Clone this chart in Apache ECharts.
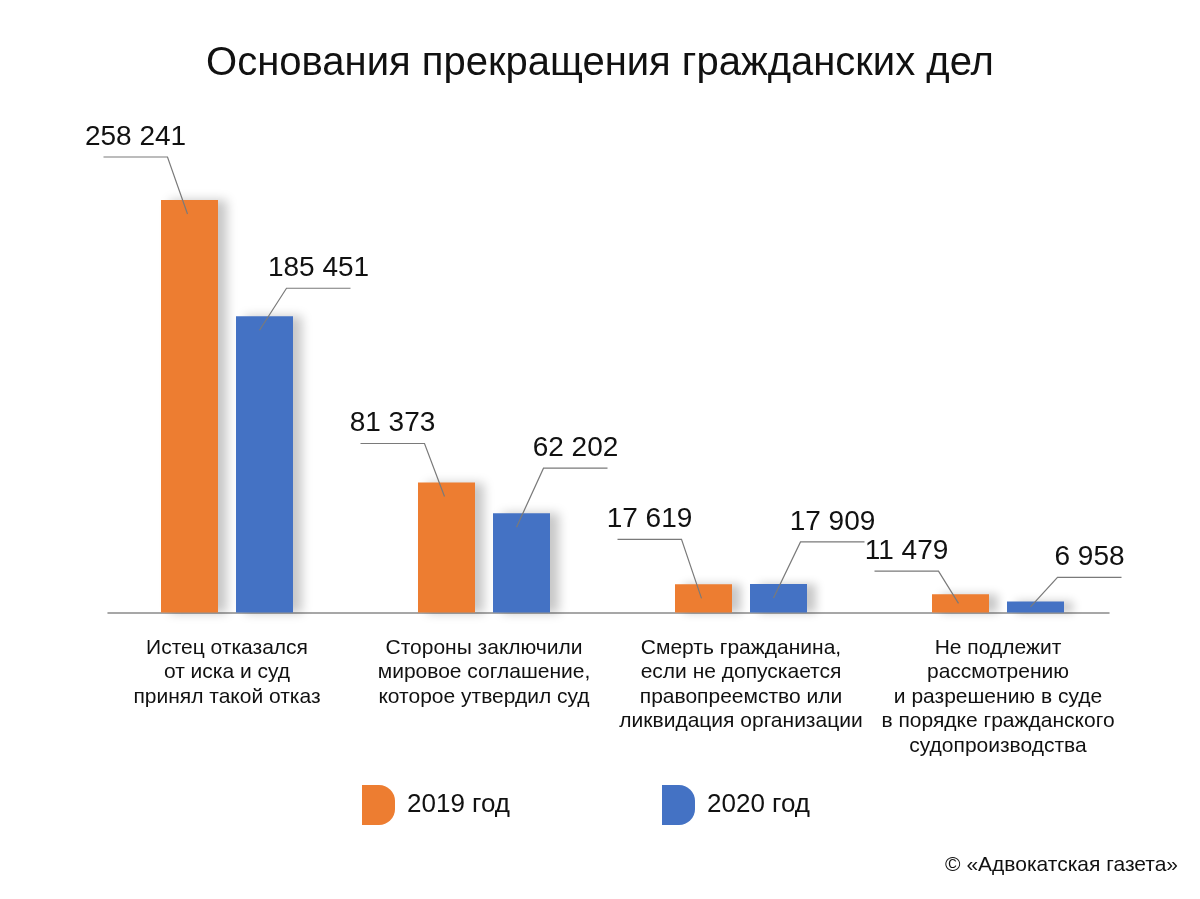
<!DOCTYPE html>
<html>
<head>
<meta charset="utf-8">
<script src="https://cdn.jsdelivr.net/npm/echarts@6/dist/echarts.min.js"></script>
<style>
html,body{margin:0;padding:0;background:#fff;}
#chart{width:1200px;height:899px;}
</style>
</head>
<body>
<div id="chart"></div>
<script>
const titleText = 'Основания прекращения гражданских дел';
const categories = [
  'Истец отказался\nот иска и суд\nпринял такой отказ',
  'Стороны заключили\nмировое соглашение,\nкоторое утвердил суд',
  'Смерть гражданина,\nесли не допускается\nправопреемство или\nликвидация организации',
  'Не подлежит\nрассмотрению\nи разрешению в суде\nв порядке гражданского\nсудопроизводства'
];
const seriesNames = ['2019 год', '2020 год'];
const values2019 = [258241, 81373, 17619, 11479];
const values2020 = [185451, 62202, 17909, 6958];
const copyrightText = '© «Адвокатская газета»';

// layout / style (not data)
const FONT = '"Liberation Sans", Arial, Helvetica, sans-serif';
const TEXT_COLOR = '#111111';
const COLORS = ['#ED7D31', '#4472C4'];
const BAR_W = 57, BAR_GAP = 18;
// how far each value label's leader elbow rises above its bar (px)
const LABEL_RISE = [[43, 39, 45, 23], [28, 45, 42, 24]];

function fmt(v) { return String(v).replace(/\B(?=(\d{3})+(?!\d))/g, ' '); }

const labelData = [];
values2019.forEach((v, i) => labelData.push([i, v, 0]));
values2020.forEach((v, i) => labelData.push([i, v, 1]));

const iconPath = 'path://M0,0 L17,0 A16,16 0 0 1 33,16 L33,24 A16,16 0 0 1 17,40 L0,40 Z';

const chart = echarts.init(document.getElementById('chart'));
chart.setOption({
  backgroundColor: '#ffffff',
  animation: false,
  title: {
    text: titleText, left: 'center', top: 44, padding: 0,
    textStyle: { fontFamily: FONT, fontSize: 40, fontWeight: 'normal', color: TEXT_COLOR }
  },
  legend: [
    {
      data: [seriesNames[0]], left: 362, top: 785, padding: 0, itemWidth: 33, itemHeight: 40,
      icon: iconPath, itemStyle: { borderWidth: 0 },
      textStyle: { fontFamily: FONT, fontSize: 26, color: TEXT_COLOR, padding: [0, 0, 0, 7] }
    },
    {
      data: [seriesNames[1]], left: 662, top: 785, padding: 0, itemWidth: 33, itemHeight: 40,
      icon: iconPath, itemStyle: { borderWidth: 0 },
      textStyle: { fontFamily: FONT, fontSize: 26, color: TEXT_COLOR, padding: [0, 0, 0, 7] }
    }
  ],
  graphic: [{
    type: 'text', right: 22, top: 855,
    style: { text: copyrightText, fontFamily: FONT, fontSize: 21, fill: TEXT_COLOR }
  }],
  grid: [
    { left: 98.5, width: 1028, top: 133.3, bottom: 286.5 },
    { left: 108, width: 1001, top: 133.3, bottom: 286.5 }
  ],
  xAxis: [
    {
      type: 'category', data: categories, gridIndex: 0,
      axisLine: { show: false }, axisTick: { show: false },
      axisLabel: { fontFamily: FONT, fontSize: 21, lineHeight: 24.5, color: TEXT_COLOR, margin: 23, interval: 0 }
    },
    {
      type: 'value', gridIndex: 1, min: 0, max: 1,
      axisLine: { show: true, lineStyle: { color: '#8a8a8a', width: 1.5 } },
      axisTick: { show: false }, axisLabel: { show: false }, splitLine: { show: false }
    }
  ],
  yAxis: [
    { type: 'value', gridIndex: 0, min: 0, max: 300000, show: false },
    { type: 'value', gridIndex: 1, min: 0, max: 1, show: false }
  ],
  series: [
    {
      name: seriesNames[0], type: 'bar', data: values2019, barWidth: BAR_W, barGap: (BAR_GAP / BAR_W * 100) + '%',
      itemStyle: { color: COLORS[0], shadowColor: 'rgba(0,0,0,0.22)', shadowBlur: 10, shadowOffsetX: 9 },
      z: 2
    },
    {
      name: seriesNames[1], type: 'bar', data: values2020, barWidth: BAR_W,
      itemStyle: { color: COLORS[1], shadowColor: 'rgba(0,0,0,0.22)', shadowBlur: 10, shadowOffsetX: 9 },
      z: 2
    },
    {
      type: 'custom', data: labelData, z: 5, silent: true,
      renderItem: function (params, api) {
        const cat = api.value(0), v = api.value(1), s = api.value(2);
        const c = api.coord([cat, v]);
        const z0 = api.coord([cat, 0]);
        const half = (BAR_W + BAR_GAP) / 2;
        const bx = c[0] + (s === 0 ? -half : half);
        const top = c[1];
        const h = z0[1] - top;
        const dir = s === 0 ? -1 : 1;
        const ex = bx + (s === 0 ? -2 : -5);
        const ey = top + Math.min(14, h * 0.5);
        const kx = bx + dir * 22, ky = top - LABEL_RISE[s][cat];
        const lx = kx + dir * 64;
        return {
          type: 'group',
          children: [
            { type: 'polyline', shape: { points: [[ex, ey], [kx, ky], [lx, ky]] },
              style: { stroke: '#7a7a7a', lineWidth: 1.2, fill: null } },
            { type: 'text', x: (kx + lx) / 2, y: ky - 6,
              style: { text: fmt(v), fontFamily: FONT, fontSize: 28, fill: TEXT_COLOR, align: 'center', verticalAlign: 'bottom' } }
          ]
        };
      }
    }
  ]
});
</script>
</body>
</html>
